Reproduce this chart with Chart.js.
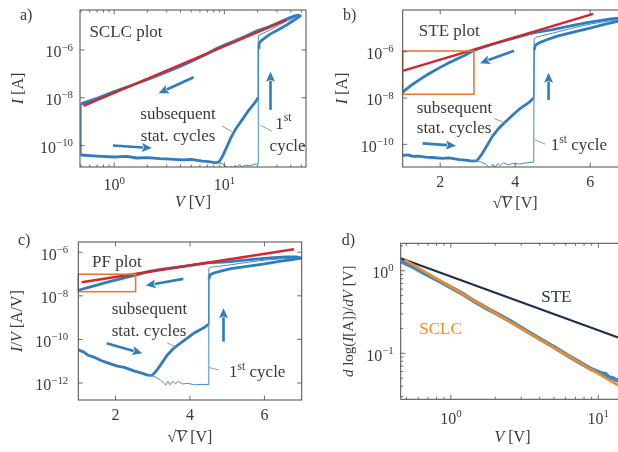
<!DOCTYPE html>
<html>
<head>
<meta charset="utf-8">
<title>Resistive switching I–V analysis</title>
<script src="https://cdn.jsdelivr.net/npm/chart.js@4.4.1/dist/chart.umd.min.js"></script>
<style>
  html, body { margin: 0; padding: 0; background: #fff; overflow: hidden; width: 618px; height: 452px; }
  canvas { position: absolute; left: 0; top: 0; }
</style>
</head>
<body>
<canvas id="panelA" width="660" height="452"></canvas>
<canvas id="panelB" width="660" height="452"></canvas>
<canvas id="panelC" width="660" height="452"></canvas>
<canvas id="panelD" width="660" height="452"></canvas>
<script>
// ---- measured sweeps: voltage V [V] and current I [A] ----
// subsequent cycles: forward (low state), set jump, loop at max bias, backward (high state)
const sweepV = [0.5, 0.7, 1.0, 1.3, 1.6, 2.0, 2.6, 3.2, 4.2, 5.0, 6.3, 7.2, 8.2, 8.9,
                9.6, 10.3, 11.5, 12.7, 14.7, 16.8, 19.1, 20.2,
                20.3, 20.6, 21.5, 23.3, 26, 31.7, 36, 41, 46, 49,
                47, 43, 39, 35, 30, 25, 20, 15, 12, 10, 8.4, 7, 5, 4, 3, 2.25, 1.5, 1.0, 0.7, 0.5,
                0.5];
const sweepI = [4.0e-11, 3.6e-11, 3.3e-11, 3.5e-11, 3.0e-11, 3.1e-11, 2.8e-11, 2.7e-11, 2.5e-11, 2.6e-11, 2.2e-11, 2.1e-11, 1.9e-11, 2.0e-11,
                3.5e-11, 7e-11, 2.2e-10, 5e-10, 1.3e-9, 3.2e-9, 6.5e-9, 1.0e-8,
                1.2e-6, 1.9e-6, 2.4e-6, 3.2e-6, 4.6e-6, 7.5e-6, 1.05e-5, 1.55e-5, 2.15e-5, 2.65e-5,
                2.85e-5, 2.6e-5, 2.2e-5, 1.8e-5, 1.3e-5, 9.0e-6, 6.5e-6, 3.5e-6, 2.25e-6, 1.6e-6, 1.12e-6, 6.9e-7, 3.3e-7, 2.1e-7, 1.2e-7, 7.0e-8, 3.5e-8, 1.8e-8, 9.5e-9, 5.5e-9,
                4.0e-11];

// first (forming) cycle
const firstV = [8.0, 8.9, 9.6, 10.3, 10.8, 11.2, 11.6, 12.0, 12.5, 13.0, 13.6, 14.5, 15.5, 17.0, 18.5, 20.2,
                20.3, 20.7, 22, 25, 30, 36, 42, 47];
const firstI = [1.9e-11, 2.0e-11, 1.7e-11, 1.4e-11, 1.1e-11, 9e-12, 1.4e-11, 1.0e-11, 1.5e-11, 1.2e-11, 1.6e-11, 1.3e-11, 1.5e-11, 1.4e-11, 1.6e-11, 1.7e-11,
                3.5e-6, 4.2e-6, 4.8e-6, 6.3e-6, 1.0e-5, 1.55e-5, 2.1e-5, 2.6e-5];

// fitted conduction laws
const sclcFitV = [0.526, 36.6];      // I vs V (log-log)
const sclcFitI = [4.6e-9, 1.8e-5];
const steFitS = [1.0, 6.08];         // I vs sqrt(V)
const steFitI = [1.47e-7, 4.3e-5];
const pfFitS = [1.09, 6.79];         // I/V vs sqrt(V)
const pfFitIV = [4.2e-8, 1.37e-6];

// differential slope d log(I)/dV
const slopeV = [0.46, 0.55, 0.65, 0.75, 0.87, 1.0, 1.2, 1.45, 1.75, 2.1, 2.6, 3.2, 4.0, 5.0, 6.2, 7.5, 9.0, 10.5, 11.2, 11.8, 12.5, 13.5, 15];
const slopeVal = [1.30, 1.12, 0.95, 0.83, 0.72, 0.63, 0.525, 0.425, 0.35, 0.295, 0.238, 0.19, 0.15, 0.119, 0.094, 0.077, 0.064, 0.057, 0.056, 0.051, 0.050, 0.047, 0.044];
const sclcSlopeV = [0.486, 15];
const sclcSlopeVal = [1.35, 0.037];
const steSlopeV = [0.457, 15];
const steSlopeVal = [1.42, 0.146];

// tick values
const voltageTicks = [1, 10];
const voltageMinorA = [0.5, 0.6, 0.7, 0.8, 0.9, 2, 3, 4, 5, 6, 7, 8, 9, 20, 30, 40, 50];
const voltageMinorD = [0.5, 0.6, 0.7, 0.8, 0.9, 2, 3, 4, 5, 6, 7, 8, 9];
const currentTicks = [1e-10, 1e-8, 1e-6];
const sqrtTicks = [2, 4, 6];
const pfTicks = [1e-12, 1e-10, 1e-8, 1e-6];
const slopeTicks = [0.1, 1];
const slopeMinor = [0.03, 0.04, 0.05, 0.06, 0.07, 0.08, 0.09, 0.2, 0.3, 0.4, 0.5, 0.6, 0.7, 0.8, 0.9, 2];

// ---- styling ----
const SERIF = '"Liberation Serif", "Times New Roman", serif';
const INK = '#3a3a3a';
const BLUE = '#2f7dbd';
const BLUE_THIN = '#3f8ccb';
const RED = '#d1282b';
const BOX = '#e57b35';
const GREY = '#9a9a9a';
const NAVY = '#1e2f52';
const ORANGE = '#f28b20';

function font(size, it) { return (it ? 'italic ' : '') + size + 'px ' + SERIF; }
function partSize(p, size) { return p.sup ? size * 0.68 : size; }
function richWidth(ctx, parts, size) {
  let w = 0;
  for (const p of parts) { ctx.font = font(partSize(p, size), p.it); w += ctx.measureText(p.t).width; }
  return w;
}
// text made of runs: {t, it: italic, sup: superscript, over: overline}
function drawRich(ctx, parts, x, y, opt) {
  const size = opt.size || 16;
  ctx.save();
  ctx.translate(x, y);
  if (opt.rotate) ctx.rotate(opt.rotate);
  const w = richWidth(ctx, parts, size);
  let cx = opt.align === 'center' ? -w / 2 : opt.align === 'right' ? -w : 0;
  const base = size * 0.34;
  ctx.fillStyle = opt.color || INK;
  ctx.strokeStyle = opt.color || INK;
  ctx.textBaseline = 'alphabetic';
  ctx.textAlign = 'left';
  for (const p of parts) {
    const s = partSize(p, size);
    ctx.font = font(s, p.it);
    const yy = base - (p.sup ? size * 0.42 : 0);
    ctx.fillText(p.t, cx, yy);
    const pw = ctx.measureText(p.t).width;
    if (p.over) {
      ctx.lineWidth = 0.9;
      ctx.beginPath();
      ctx.moveTo(cx - 0.5, yy - size * 0.74);
      ctx.lineTo(cx + pw + 0.5, yy - size * 0.74);
      ctx.stroke();
    }
    cx += pw;
  }
  ctx.restore();
}
function logLabel(v) {
  const e = Math.round(Math.log10(v));
  return [{ t: '10' }, { t: (e < 0 ? '\u2212' : '') + Math.abs(e), sup: true }];
}
function linLabel(v) { return [{ t: String(v) }]; }

function arrow(ctx, x0, y0, x1, y1, color) {
  const ang = Math.atan2(y1 - y0, x1 - x0);
  const head = 10, hw = 4.5;
  const bx = x1 - head * Math.cos(ang), by = y1 - head * Math.sin(ang);
  ctx.strokeStyle = color; ctx.lineWidth = 2.6; ctx.lineCap = 'butt';
  ctx.beginPath(); ctx.moveTo(x0, y0); ctx.lineTo(bx + Math.cos(ang), by + Math.sin(ang)); ctx.stroke();
  ctx.fillStyle = color;
  ctx.beginPath();
  ctx.moveTo(x1, y1);
  ctx.lineTo(bx + hw * Math.sin(ang), by - hw * Math.cos(ang));
  ctx.lineTo(bx + 2 * Math.cos(ang), by + 2 * Math.sin(ang));
  ctx.lineTo(bx - hw * Math.sin(ang), by + hw * Math.cos(ang));
  ctx.closePath(); ctx.fill();
}

function decoPlugin(spec) {
  return {
    id: 'deco',
    afterDraw(chart) {
      const ctx = chart.ctx, a = chart.chartArea;
      const xs = chart.scales.x, ys = chart.scales.y;
      const px = v => xs.getPixelForValue(v), py = v => ys.getPixelForValue(v);
      ctx.save();
      // highlighted fit windows
      for (const b of spec.boxes || []) {
        ctx.strokeStyle = BOX; ctx.lineWidth = 1.6;
        const x0 = Math.max(px(b.x0), a.left);
        ctx.strokeRect(x0, py(b.y1), px(b.x1) - x0, py(b.y0) - py(b.y1));
      }
      // leader lines
      ctx.strokeStyle = GREY; ctx.lineWidth = 1;
      for (const l of spec.leaders || []) {
        ctx.beginPath(); ctx.moveTo(px(l.x0), py(l.y0)); ctx.lineTo(px(l.x1), py(l.y1)); ctx.stroke();
      }
      // sweep direction arrows
      for (const r of spec.arrows || []) arrow(ctx, px(r.x0), py(r.y0), px(r.x1), py(r.y1), BLUE);
      // in-plot labels
      for (const t of spec.texts || []) drawRich(ctx, t.parts, px(t.x), py(t.y), { align: t.align, size: t.size || 17, color: t.color || INK });
      // frame
      ctx.strokeStyle = '#4a4a4a'; ctx.lineWidth = 1;
      ctx.strokeRect(a.left, a.top, a.right - a.left, a.bottom - a.top);
      // ticks on all four sides, pointing inwards
      const tick = (vals, len, horiz) => {
        ctx.beginPath();
        for (const v of vals) {
          if (horiz) {
            const p = px(v); if (p < a.left + 0.5 || p > a.right - 0.5) continue;
            ctx.moveTo(p, a.bottom); ctx.lineTo(p, a.bottom - len);
            ctx.moveTo(p, a.top); ctx.lineTo(p, a.top + len);
          } else {
            const p = py(v); if (p < a.top + 0.5 || p > a.bottom - 0.5) continue;
            ctx.moveTo(a.left, p); ctx.lineTo(a.left + len, p);
            ctx.moveTo(a.right, p); ctx.lineTo(a.right - len, p);
          }
        }
        ctx.stroke();
      };
      ctx.lineWidth = 0.8;
      tick(spec.xTicks, 4.5, true); tick(spec.xMinor || [], 2.5, true);
      tick(spec.yTicks, 4.5, false); tick(spec.yMinor || [], 2.5, false);
      // tick labels
      for (const v of spec.xTicks) drawRich(ctx, spec.xFmt(v), px(v), a.bottom + spec.xLabelDy, { align: 'center', size: 16 });
      for (const v of spec.yTicks) drawRich(ctx, spec.yFmt(v), a.left - spec.yLabelDx, py(v) + 2, { align: 'right', size: 16 });
      // axis titles
      drawRich(ctx, spec.xTitle, (a.left + a.right) / 2, a.bottom + spec.xTitleDy, { align: 'center', size: 16 });
      drawRich(ctx, spec.yTitle, a.left - spec.yTitleDx, (a.top + a.bottom) / 2, { align: 'center', size: spec.yTitleSize || 16, rotate: -Math.PI / 2 });
      // panel letter
      drawRich(ctx, [{ t: spec.letter.t }], spec.letter.x, spec.letter.y, { align: 'left', size: 16 });
      ctx.restore();
    }
  };
}

function series(xs, ys, style) {
  return Object.assign({ data: xs.map((x, i) => ({ x, y: ys[i] })), pointRadius: 0, fill: false, borderJoinStyle: 'round' }, style);
}
// the steep set/closing transitions are drawn as single thin traces
const thinJump = { borderWidth: c => (Math.abs(c.p1.x - c.p0.x) < 2 && Math.abs(c.p1.y - c.p0.y) > 15) ? 1.3 : undefined };

function makePanel(id, spec) {
  const W = 660, H = 452;
  return new Chart(document.getElementById(id), {
    type: 'line',
    data: { datasets: spec.datasets },
    options: {
      responsive: false, animation: false, devicePixelRatio: 1, events: [],
      layout: { padding: { left: spec.area.l, top: spec.area.t, right: W - spec.area.r, bottom: H - spec.area.b } },
      plugins: { legend: { display: false }, tooltip: { enabled: false } },
      elements: { point: { radius: 0 }, line: { tension: 0 } },
      scales: {
        x: Object.assign({ display: false }, spec.x),
        y: Object.assign({ display: false }, spec.y)
      }
    },
    plugins: [decoPlugin(spec)]
  });
}

const sqrtV = sweepV.map(v => Math.sqrt(v));
const sqrtFirst = firstV.map(v => Math.sqrt(v));
const sweepIV = sweepI.map((c, i) => c / sweepV[i]);
const firstIV = firstI.map((c, i) => c / firstV[i]);
const sqrtTitle = [{ t: '\u221A' }, { t: 'V', it: true, over: true }, { t: ' [V]' }];
const currentTitle = [{ t: 'I', it: true }, { t: ' [A]' }];
const firstCycle = [{ t: '1' }, { t: 'st', sup: true }, { t: ' cycle' }];

// a) SCLC plot
makePanel('panelA', {
  area: { l: 80, r: 306, t: 10, b: 167 },
  x: { type: 'logarithmic', min: 0.49, max: 55 },
  y: { type: 'logarithmic', min: 1.26e-11, max: 4.7e-5 },
  datasets: [
    series(sclcFitV, sclcFitI, { borderColor: RED, borderWidth: 2.4 }),
    series(firstV, firstI, { borderColor: BLUE_THIN, borderWidth: 1 }),
    series(sweepV, sweepI, { borderColor: BLUE, borderWidth: 2.8, segment: thinJump })
  ],
  xTicks: voltageTicks, xMinor: voltageMinorA, yTicks: currentTicks,
  xFmt: logLabel, yFmt: logLabel, xLabelDy: 18, yLabelDx: 7,
  xTitle: [{ t: 'V', it: true }, { t: ' [V]' }], xTitleDy: 35,
  yTitle: currentTitle, yTitleDx: 62,
  letter: { t: 'a)', x: 20, y: 15 },
  texts: [
    { x: 0.596, y: 5.8e-6, parts: [{ t: 'SCLC plot' }], align: 'left' },
    { x: 3.8, y: 2.2e-9, parts: [{ t: 'subsequent' }], align: 'center' },
    { x: 3.8, y: 2.8e-10, parts: [{ t: 'stat. cycles' }], align: 'center' },
    { x: 34.2, y: 8.9e-10, parts: [{ t: '1' }, { t: 'st', sup: true }], align: 'center' },
    { x: 37.4, y: 1e-10, parts: [{ t: 'cycle' }], align: 'center' }
  ],
  arrows: [
    { x0: 5.26, y0: 7.2e-8, x1: 2.53, y1: 1.55e-8 },
    { x0: 0.973, y0: 1e-10, x1: 2.2, y1: 7.8e-11 },
    { x0: 26.2, y0: 3.1e-9, x1: 26.2, y1: 1.23e-7 }
  ],
  leaders: [
    { x0: 9.5, y0: 6.6e-10, x1: 12.2, y1: 3.4e-10 },
    { x0: 21.2, y0: 7e-10, x1: 27, y1: 4e-10 }
  ]
});

// b) STE plot
makePanel('panelB', {
  area: { l: 402.7, r: 627.7, t: 10, b: 167 },
  x: { type: 'linear', min: 1, max: 7 },
  y: { type: 'logarithmic', min: 1.05e-11, max: 6.3e-5 },
  datasets: [
    series(steFitS, steFitI, { borderColor: RED, borderWidth: 2.4 }),
    series(sqrtFirst, firstI, { borderColor: BLUE_THIN, borderWidth: 1 }),
    series(sqrtV, sweepI, { borderColor: BLUE, borderWidth: 2.8, segment: thinJump })
  ],
  xTicks: sqrtTicks, yTicks: currentTicks,
  xFmt: linLabel, yFmt: logLabel, xLabelDy: 15, yLabelDx: 9,
  xTitle: sqrtTitle, xTitleDy: 36,
  yTitle: currentTitle, yTitleDx: 61,
  letter: { t: 'b)', x: 343, y: 15 },
  texts: [
    { x: 1.43, y: 8.6e-6, parts: [{ t: 'STE plot' }], align: 'left' },
    { x: 2.38, y: 4.2e-9, parts: [{ t: 'subsequent' }], align: 'center' },
    { x: 2.37, y: 5.4e-10, parts: [{ t: 'stat. cycles' }], align: 'center' },
    { x: 4.95, y: 1.02e-10, parts: firstCycle, align: 'left' }
  ],
  arrows: [
    { x0: 3.97, y0: 1.1e-6, x1: 3.06, y1: 3.2e-7 },
    { x0: 1.53, y0: 1.1e-10, x1: 2.42, y1: 8.7e-11 },
    { x0: 4.89, y0: 8.1e-9, x1: 4.89, y1: 1.24e-7 }
  ],
  leaders: [
    { x0: 3.44, y0: 1.3e-9, x1: 3.75, y1: 8.1e-10 },
    { x0: 4.53, y0: 1.55e-10, x1: 4.8, y1: 1.02e-10 }
  ],
  boxes: [{ x0: 1, x1: 2.9, y0: 1.45e-8, y1: 1.07e-6 }]
});

// c) PF plot
makePanel('panelC', {
  area: { l: 78.3, r: 301.7, t: 242, b: 400 },
  x: { type: 'linear', min: 1, max: 7 },
  y: { type: 'logarithmic', min: 1.66e-13, max: 2.95e-6 },
  datasets: [
    series(pfFitS, pfFitIV, { borderColor: RED, borderWidth: 2.4 }),
    series(sqrtFirst, firstIV, { borderColor: BLUE_THIN, borderWidth: 1 }),
    series(sqrtV, sweepIV, { borderColor: BLUE, borderWidth: 2.8, segment: thinJump })
  ],
  xTicks: sqrtTicks, yTicks: pfTicks,
  xFmt: linLabel, yFmt: logLabel, xLabelDy: 15, yLabelDx: 10,
  xTitle: sqrtTitle, xTitleDy: 37,
  yTitle: [{ t: 'I', it: true }, { t: '/' }, { t: 'V', it: true }, { t: ' [A/V]' }], yTitleDx: 62,
  letter: { t: 'c)', x: 18, y: 240 },
  texts: [
    { x: 1.37, y: 3.7e-7, parts: [{ t: 'PF plot' }], align: 'left' },
    { x: 2.91, y: 2.7e-9, parts: [{ t: 'subsequent' }], align: 'center' },
    { x: 2.9, y: 2.7e-10, parts: [{ t: 'stat. cycles' }], align: 'center' },
    { x: 5.05, y: 3.3e-12, parts: firstCycle, align: 'left' }
  ],
  arrows: [
    { x0: 3.82, y0: 6e-8, x1: 2.81, y1: 2.95e-8 },
    { x0: 1.76, y0: 6.6e-11, x1: 2.72, y1: 2.3e-11 },
    { x0: 4.9, y0: 7.9e-11, x1: 4.9, y1: 2.7e-9 }
  ],
  leaders: [
    { x0: 3.39, y0: 6.8e-11, x1: 3.61, y1: 4.7e-11 },
    { x0: 4.51, y0: 5.1e-12, x1: 4.78, y1: 4e-12 }
  ],
  boxes: [{ x0: 1, x1: 2.54, y0: 1.55e-8, y1: 9.8e-8 }]
});

// d) differential slope
makePanel('panelD', {
  area: { l: 400.7, r: 624.3, t: 243.3, b: 399.3 },
  x: { type: 'logarithmic', min: 0.457, max: 15 },
  y: { type: 'logarithmic', min: 0.0277, max: 2.15 },
  datasets: [
    series(sclcSlopeV, sclcSlopeVal, { borderColor: ORANGE, borderWidth: 2.6 }),
    series(steSlopeV, steSlopeVal, { borderColor: NAVY, borderWidth: 2.2 }),
    series(slopeV, slopeVal, { borderColor: '#3c87c6', borderWidth: 4.2 })
  ],
  xTicks: voltageTicks, xMinor: voltageMinorD, yTicks: slopeTicks, yMinor: slopeMinor,
  xFmt: logLabel, yFmt: logLabel, xLabelDy: 19, yLabelDx: 7,
  xTitle: [{ t: 'V', it: true }, { t: ' [V]' }], xTitleDy: 37,
  yTitle: [{ t: 'd', it: true }, { t: ' log(' }, { t: 'I', it: true }, { t: '[A])/' }, { t: 'dV', it: true }, { t: ' [V]' }],
  yTitleDx: 53, yTitleSize: 15,
  letter: { t: 'd)', x: 341.7, y: 240 },
  texts: [
    { x: 4.1, y: 0.485, parts: [{ t: 'STE' }], align: 'left', color: NAVY },
    { x: 0.611, y: 0.204, parts: [{ t: 'SCLC' }], align: 'left', color: ORANGE }
  ]
});
</script>
</body>
</html>
